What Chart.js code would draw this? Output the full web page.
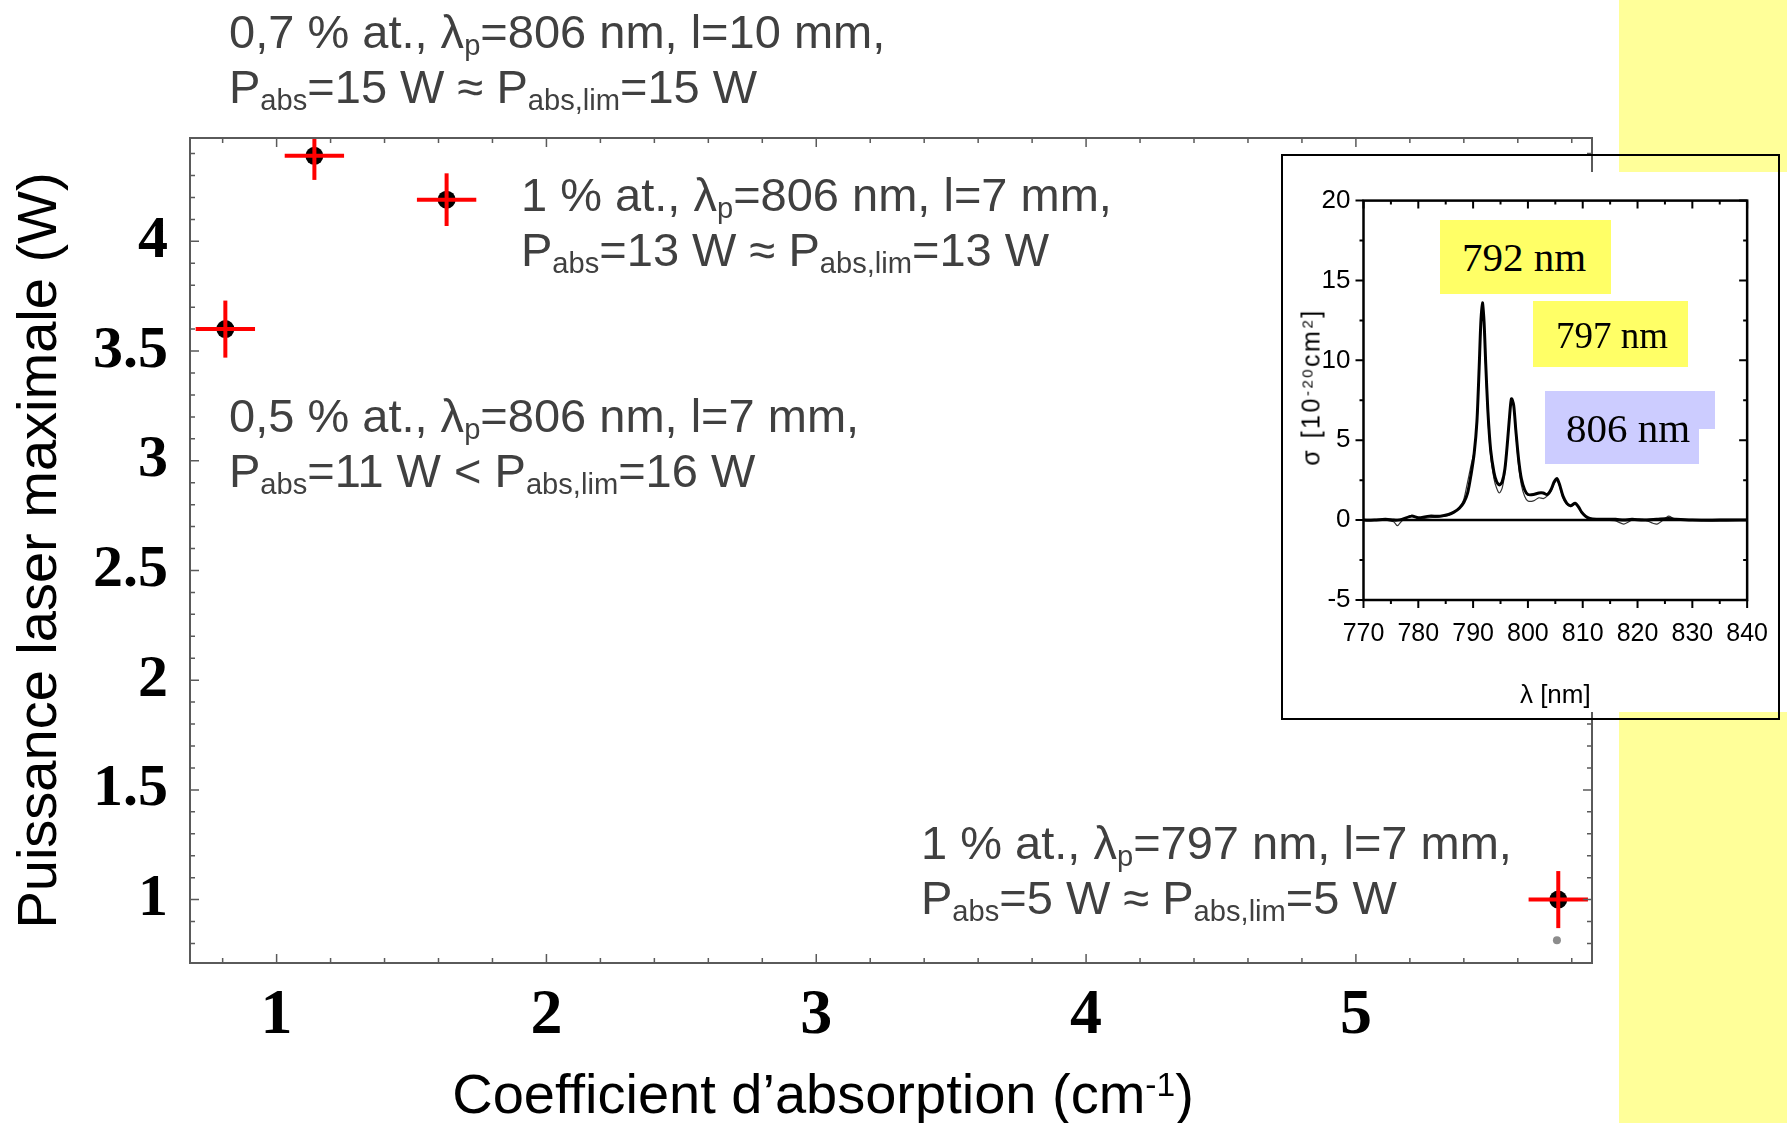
<!DOCTYPE html>
<html>
<head>
<meta charset="utf-8">
<script src="https://cdn.jsdelivr.net/npm/chart.js@4.4.1/dist/chart.umd.min.js"></script>
<style>
  body { margin: 0; width: 1787px; height: 1123px; position: relative; overflow: hidden; background: #fff; font-family: 'Liberation Sans', Arial, sans-serif; }
  #strip { position: absolute; left: 1619px; top: 0; width: 168px; height: 1123px; background: #ffff99; }
  #mainBox { position: absolute; left: 0; top: 0; width: 1787px; height: 1123px; }
  .note { position: absolute; color: #404040; font: 47px/55px 'Liberation Sans', Arial, sans-serif; white-space: nowrap; }
  .note div { height: 55px; }
  sub { font-size: 0.62em; vertical-align: -0.25em; line-height: 0; }
  sup { font-size: 0.6em; vertical-align: 0.5em; line-height: 0; }
  #xTitle { position: absolute; left: 823px; top: 1066px; transform: translateX(-50%); font: 56px/56px 'Liberation Sans', Arial, sans-serif; color: #000; white-space: nowrap; }
  #insetBox { position: absolute; left: 1282px; top: 172px; width: 505px; height: 540px; background: #fff; }
  #insetFrame { position: absolute; left: 1281px; top: 154px; width: 499px; height: 566px; box-sizing: border-box; border: 2px solid #000; }
  #insetY { position: absolute; left: 1311px; top: 387px; transform: translate(-50%, -50%) rotate(-90deg); font: 25px/25px 'Liberation Sans', Arial, sans-serif; letter-spacing: 2.5px; color: #000; white-space: nowrap; }
  .tag { position: absolute; }
  .tagText { position: absolute; font: 41px/41px 'Liberation Serif', 'Times New Roman', serif; color: #000; white-space: nowrap; }
</style>
</head>
<body>
<div id="strip"></div>
<div id="mainBox"><canvas id="mainChart"></canvas></div>

<div class="note" style="left:229px;top:4px">
  <div>0,7 % at., λ<sub>p</sub>=806 nm, l=10 mm,</div>
  <div>P<sub>abs</sub>=15 W ≈ P<sub>abs,lim</sub>=15 W</div>
</div>
<div class="note" style="left:521px;top:167px">
  <div>1 % at., λ<sub>p</sub>=806 nm, l=7 mm,</div>
  <div>P<sub>abs</sub>=13 W ≈ P<sub>abs,lim</sub>=13 W</div>
</div>
<div class="note" style="left:229px;top:388px">
  <div>0,5 % at., λ<sub>p</sub>=806 nm, l=7 mm,</div>
  <div>P<sub>abs</sub>=11 W &lt; P<sub>abs,lim</sub>=16 W</div>
</div>
<div class="note" style="left:921px;top:815px">
  <div>1 % at., λ<sub>p</sub>=797 nm, l=7 mm,</div>
  <div>P<sub>abs</sub>=5 W ≈ P<sub>abs,lim</sub>=5 W</div>
</div>

<div id="xTitle">Coefficient d’absorption (cm<sup>-1</sup>)</div>

<div id="insetBox"><canvas id="insetChart"></canvas></div>
<div id="insetY">σ [10<sup>-20</sup>cm<sup>2</sup>]</div>

<div class="tag" style="left:1440px;top:220px;width:171px;height:74px;background:#ffff66"></div>
<div class="tagText" style="left:1462px;top:237px">792 nm</div>
<div class="tag" style="left:1533px;top:301px;width:155px;height:66px;background:#ffff66"></div>
<div class="tagText" style="left:1556px;top:317px;font-size:37px;line-height:37px">797 nm</div>
<div class="tag" style="left:1545px;top:391px;width:170px;height:38px;background:#ccccff"></div>
<div class="tag" style="left:1545px;top:429px;width:154px;height:35px;background:#ccccff"></div>
<div class="tagText" style="left:1566px;top:408px">806 nm</div>

<div id="insetFrame"></div>

<script>
// main plot: absorption coefficient (cm-1) vs maximum laser power (W)
const absorption = [0.81, 1.14, 1.63, 5.75];
const maxPower = [3.60, 4.39, 4.19, 1.00];
const absorptionErr = [0.11, 0.11, 0.11, 0.11];
const powerErr = [0.13, 0.11, 0.12, 0.13];
const strayX = [5.745];
const strayY = [0.815];

const xTicks = [1, 2, 3, 4, 5];
const xTickLabels = ['1', '2', '3', '4', '5'];
const yTicks = [1, 1.5, 2, 2.5, 3, 3.5, 4];
const yTickLabels = ['1', '1.5', '2', '2.5', '3', '3.5', '4'];

// inset: absorption cross-section spectrum
const wavelength = [770, 772, 774, 775.5, 776.2, 777, 778.8, 780, 782, 784,
  785.5, 786.5, 787.5, 788.3, 789, 789.6, 790.2, 790.7, 791.1, 791.4,
  791.7, 792, 792.3, 792.7, 793.2, 793.8, 794.3, 794.8, 795.3, 795.8,
  796.3, 796.7, 797.0, 797.4, 797.8, 798.3, 798.8, 799.4, 800, 801,
  802, 802.8, 803.5, 804.2, 804.8, 805.3, 805.8, 806.4, 807.1, 807.8,
  808.6, 809.2, 809.8, 810.5, 811.3, 812.5, 814, 816, 817.5, 819,
  821, 823.5, 825.7, 827, 830, 835, 840];
const sigmaA = [0, 0, 0.05, 0, 0, 0.05, 0.25, 0.15, 0.25, 0.25,
  0.35, 0.5, 0.75, 1.1, 1.7, 2.8, 4.2, 6.2, 9.5, 12.3,
  13.6, 12.4, 9.8, 6.8, 4.4, 3.0, 2.4, 2.2, 2.4, 3.2,
  5.0, 6.7, 7.6, 7.2, 5.6, 3.8, 2.6, 1.9, 1.6, 1.6,
  1.7, 1.7, 1.6, 1.9, 2.4, 2.6, 2.2, 1.5, 1.05, 0.9,
  1.05, 0.85, 0.5, 0.25, 0.1, 0.05, 0.05, 0.05, 0, 0.05,
  0, 0.05, 0.1, 0.05, 0, 0, 0];
const sigmaB = [0, 0, 0, -0.1, -0.35, -0.05, 0.3, 0.1, 0.15, 0.2,
  0.3, 0.5, 0.8, 1.3, 2.4, 3.4, 4.3, 6.0, 9.2, 12.0,
  13.3, 12.2, 9.5, 6.4, 4.0, 2.6, 2.0, 1.7, 2.0, 3.0,
  4.9, 6.6, 7.5, 7.1, 5.4, 3.4, 2.2, 1.5, 1.2, 1.2,
  1.4, 1.35, 1.5, 1.8, 2.3, 2.5, 2.1, 1.4, 1.0, 0.85,
  1.0, 0.8, 0.45, 0.2, 0.05, 0, 0, -0.05, -0.25, 0,
  0.05, -0.25, 0.25, 0, 0, -0.05, 0];
const zeroX = [770, 840];
const zeroY = [0, 0];

const insetXTicks = [770, 780, 790, 800, 810, 820, 830, 840];
const insetXLabels = ['770', '780', '790', '800', '810', '820', '830', '840'];
const insetYTicks = [-5, 0, 5, 10, 15, 20];
const insetYLabels = ['-5', '0', '5', '10', '15', '20'];

// box around the plot area with minor/major tick marks
const frameTicks = {
  id: 'frameTicks',
  afterDatasetsDraw(chart, args, o) {
    const { ctx, chartArea: a, scales: { x, y } } = chart;
    const marks = (scale, minor, major, draw) => {
      const first = Math.ceil(scale.min / minor - 1e-6);
      const last = Math.floor(scale.max / minor + 1e-6);
      for (let k = first; k <= last; k++) {
        const v = k * minor;
        const isMajor = Math.abs(v / major - Math.round(v / major)) < 1e-6;
        draw(scale.getPixelForValue(v), isMajor ? o.major : o.minor);
      }
    };
    const dir = o.outward ? -1 : 1;
    ctx.save();
    ctx.strokeStyle = o.color;
    ctx.lineWidth = o.tickWidth;
    ctx.beginPath();
    marks(x, o.xMinor, o.xMajor, (p, len) => {
      ctx.moveTo(p, a.bottom); ctx.lineTo(p, a.bottom - dir * len);
      ctx.moveTo(p, a.top); ctx.lineTo(p, a.top + len);
    });
    marks(y, o.yMinor, o.yMajor, (p, len) => {
      ctx.moveTo(a.left, p); ctx.lineTo(a.left + dir * len, p);
      ctx.moveTo(a.right, p); ctx.lineTo(a.right - len, p);
    });
    ctx.stroke();
    ctx.lineWidth = o.frameWidth;
    ctx.strokeRect(a.left, a.top, a.right - a.left, a.bottom - a.top);
    ctx.restore();
  }
};

const errorSets = [];
absorption.forEach((x, i) => {
  const y = maxPower[i];
  const bar = {
    showLine: true, borderColor: '#ff0000', borderWidth: 4, pointRadius: 0,
    borderCapStyle: 'butt', order: 0
  };
  errorSets.push({ ...bar, data: [{ x: x - absorptionErr[i], y }, { x: x + absorptionErr[i], y }] });
  errorSets.push({ ...bar, data: [{ x, y: y - powerErr[i] }, { x, y: y + powerErr[i] }] });
});

new Chart(document.getElementById('mainChart'), {
  type: 'scatter',
  data: {
    datasets: [
      ...errorSets,
      {
        data: absorption.map((x, i) => ({ x, y: maxPower[i] })),
        pointRadius: 9, pointBackgroundColor: '#000', pointBorderWidth: 0, order: 1
      },
      {
        data: strayX.map((x, i) => ({ x, y: strayY[i] })),
        pointRadius: 4, pointBackgroundColor: '#8c8c8c', pointBorderWidth: 0, order: 2
      }
    ]
  },
  options: {
    responsive: true,
    maintainAspectRatio: false,
    animation: false,
    layout: { padding: { left: 0, top: 138, right: 195, bottom: 0 } },
    plugins: {
      legend: { display: false },
      tooltip: { enabled: false },
      frameTicks: {
        color: '#5a5a5a', frameWidth: 2, tickWidth: 1.5, outward: false,
        major: 9, minor: 5, xMinor: 0.2, xMajor: 1, yMinor: 0.1, yMajor: 0.5
      }
    },
    scales: {
      x: {
        type: 'linear', min: 0.679, max: 5.875,
        afterBuildTicks: s => { s.ticks = xTicks.map(v => ({ value: v })); },
        afterFit: s => { s.height = 160; },
        grid: { display: false, drawTicks: false },
        border: { display: false },
        ticks: {
          autoSkip: false, maxRotation: 0, padding: 15, color: '#000',
          font: { family: "'Liberation Serif', 'Times New Roman', serif", weight: 'bold', size: 64 },
          callback: v => xTickLabels[xTicks.indexOf(v)]
        }
      },
      y: {
        type: 'linear', min: 0.711, max: 4.471,
        afterBuildTicks: s => { s.ticks = yTicks.map(v => ({ value: v })); },
        afterFit: s => { s.width = 190; },
        grid: { display: false, drawTicks: false },
        border: { display: false },
        ticks: {
          autoSkip: false, padding: 22, color: '#000',
          font: { family: "'Liberation Serif', 'Times New Roman', serif", weight: 'bold', size: 60 },
          callback: v => yTickLabels[yTicks.indexOf(v)]
        },
        title: {
          display: true, text: 'Puissance laser maximale (W)', color: '#000',
          font: { family: "'Liberation Sans', Arial, sans-serif", size: 56 },
          padding: { top: 7, bottom: 0 }
        }
      }
    }
  },
  plugins: [frameTicks]
});

const insetFont = "'Liberation Sans', Arial, sans-serif";

new Chart(document.getElementById('insetChart'), {
  type: 'scatter',
  data: {
    datasets: [
      {
        data: zeroX.map((x, i) => ({ x, y: zeroY[i] })),
        showLine: true, borderColor: '#000', borderWidth: 2.5, pointRadius: 0
      },
      {
        data: wavelength.map((x, i) => ({ x, y: sigmaA[i] })),
        showLine: true, borderColor: '#000', borderWidth: 3, pointRadius: 0, tension: 0.25
      },
      {
        data: wavelength.map((x, i) => ({ x, y: sigmaB[i] })),
        showLine: true, borderColor: '#333', borderWidth: 1.2, pointRadius: 0, tension: 0.25
      }
    ]
  },
  options: {
    responsive: true,
    maintainAspectRatio: false,
    animation: false,
    layout: { padding: { left: 0, top: 25.7, right: 33, bottom: 0 } },
    plugins: {
      legend: { display: false },
      tooltip: { enabled: false },
      frameTicks: {
        color: '#000', frameWidth: 2.5, tickWidth: 2, outward: true,
        major: 8, minor: 4, xMinor: 5, xMajor: 10, yMinor: 2.5, yMajor: 5
      }
    },
    scales: {
      x: {
        type: 'linear', min: 770, max: 840,
        afterBuildTicks: s => { s.ticks = insetXTicks.map(v => ({ value: v })); },
        afterFit: s => { s.height = 112; },
        grid: { display: false, drawTicks: false },
        border: { display: false },
        ticks: {
          autoSkip: false, maxRotation: 0, padding: 19, color: '#000',
          font: { family: insetFont, size: 25 },
          callback: v => insetXLabels[insetXTicks.indexOf(v)]
        },
        title: {
          display: true, text: 'λ [nm]', color: '#000',
          font: { family: insetFont, size: 26, lineHeight: 1 },
          padding: { top: 0, bottom: 3 }
        }
      },
      y: {
        type: 'linear', min: -5, max: 20,
        afterBuildTicks: s => { s.ticks = insetYTicks.map(v => ({ value: v })); },
        afterFit: s => { s.width = 81.5; },
        grid: { display: false, drawTicks: false },
        border: { display: false },
        ticks: {
          autoSkip: false, padding: 13, color: '#000',
          font: { family: insetFont, size: 26 },
          callback: v => insetYLabels[insetYTicks.indexOf(v)]
        }
      }
    }
  },
  plugins: [frameTicks]
});
</script>
</body>
</html>
